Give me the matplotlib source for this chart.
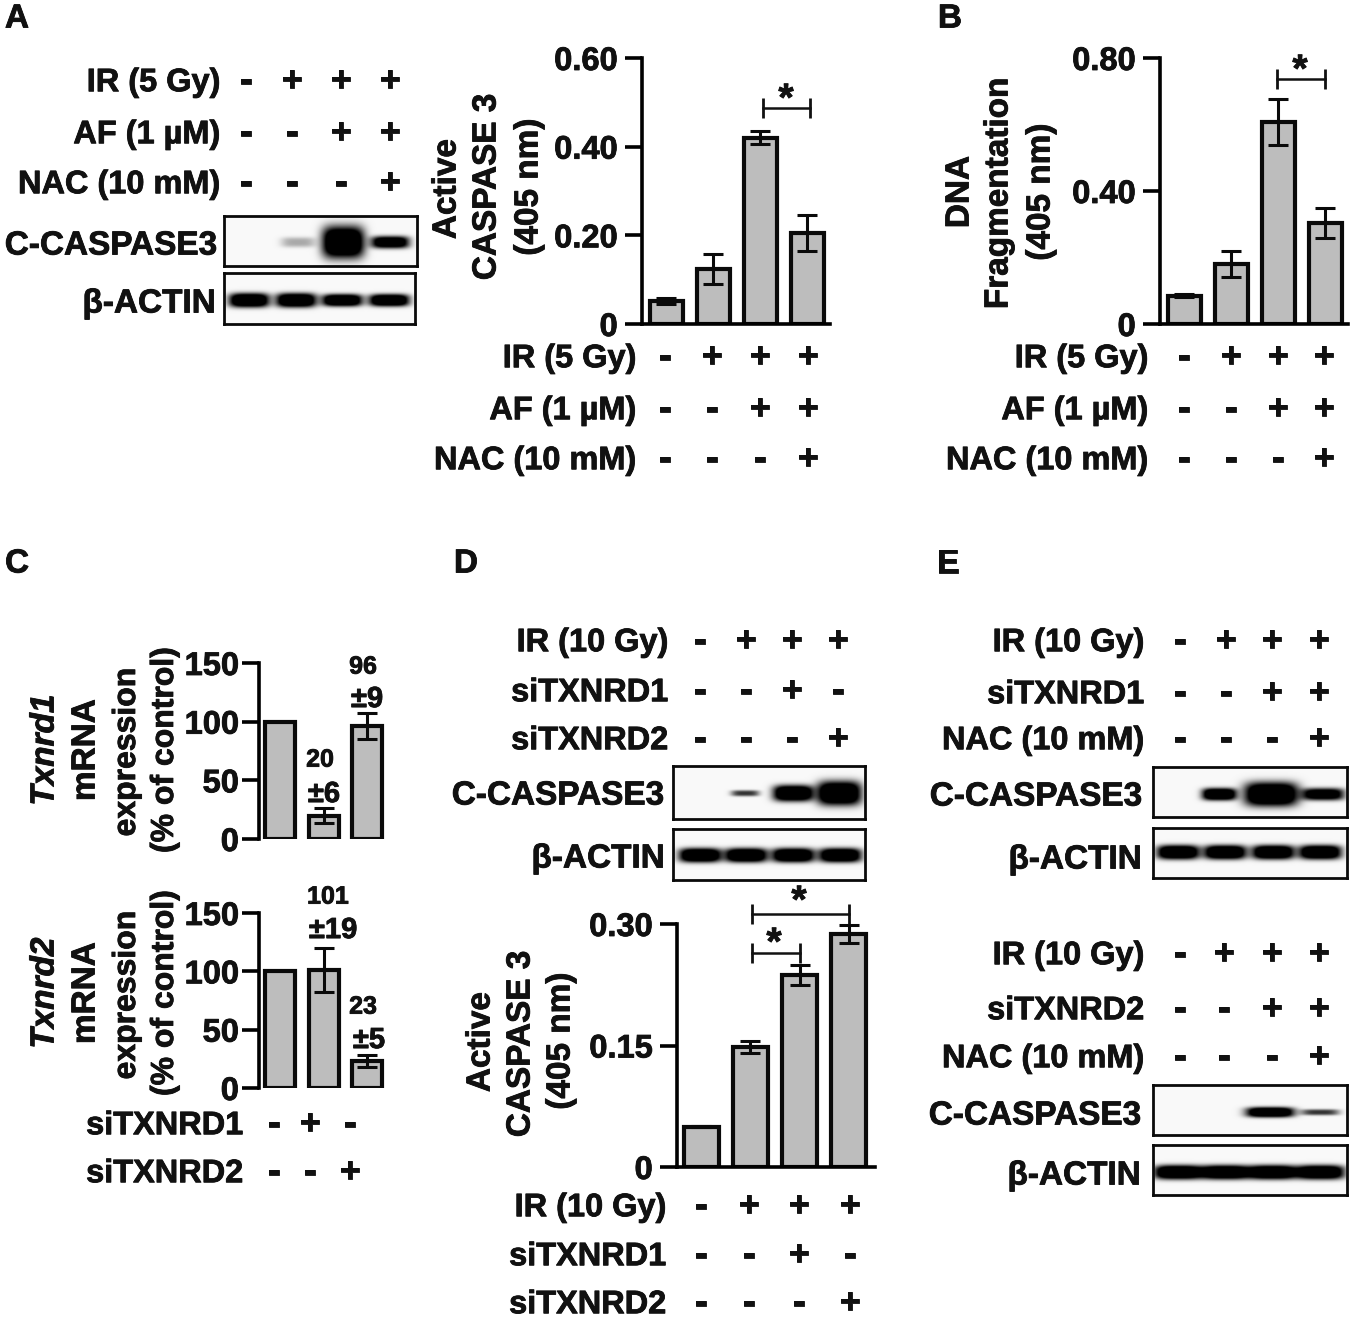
import numpy as np
import matplotlib
matplotlib.use("Agg")
import matplotlib.pyplot as plt
import matplotlib.patheffects as pe

plt.rcParams['font.family'] = ['Liberation Sans', 'DejaVu Sans']
plt.rcParams['font.weight'] = 'bold'

W, H = 1355, 1324
FS = 24
ROW_FS = 23.4
SIGN_FS = 26
GRAY = '#bdbdbd'
HEAVY = [pe.withStroke(linewidth=0.6, foreground='#111111')]

# ---- data -----
caspase_a = [0.052, 0.125, 0.42, 0.205]
caspase_a_err = [0.007, 0.034, 0.015, 0.04]
dna_b = [0.085, 0.18, 0.607, 0.305]
dna_b_err = [0.004, 0.04, 0.07, 0.045]
txnrd1 = [100, 20, 96]
txnrd1_err = [0, 6, 11]
txnrd2 = [100, 101, 23]
txnrd2_err = [0, 19, 5]
caspase_d = [0.05, 0.148, 0.237, 0.288]
caspase_d_err = [0.001, 0.007, 0.012, 0.011]

ir = "-+++"
af = "--++"
nac = "---+"
si1_d = "--+-"
si2_d = "---+"
si1_c = "-+-"
si2_c = "--+"
si_e = "--++"

blot_a_casp = [0.0, 0.2, 1.0, 0.9]
blot_d_casp = [0.0, 0.5, 1.0, 1.0]
blot_e1_casp = [0.0, 1.0, 1.0, 0.85]
blot_e2_casp = [0.0, 0.0, 1.0, 0.5]
blot_actin = [1.0, 1.0, 1.0, 1.0]

fig = plt.figure(figsize=(W / 100, H / 100), dpi=100, facecolor='white')


def axpx(x0, y0, x1, y1, **kw):
    return fig.add_axes([x0 / W, 1 - y1 / H, (x1 - x0) / W, (y1 - y0) / H], **kw)


ov = axpx(0, 0, W, H, zorder=10)
ov.set_xlim(0, W)
ov.set_ylim(H, 0)
ov.axis('off')
ov.patch.set_alpha(0)


def T(x, y, s, ha='center', fs=FS, **kw):
    ov.text(x, y + fs * 0.48, s, ha=ha, va='baseline', fontsize=fs, fontweight='bold',
            color='#111111', path_effects=HEAVY, **kw)


def V(x, y, s, fs=FS, **kw):
    ov.text(x, y, s, ha='center', va='center', rotation=90, fontsize=fs, fontweight='bold',
            color='#111111', path_effects=HEAVY, **kw)


def rows(right, ys, labels, xs, signs):
    for y, lab, sg in zip(ys, labels, signs):
        T(right, y, lab, ha='right', fs=ROW_FS)
        for x, c in zip(xs, sg):
            ov.text(x, y + 11, c, ha='center', va='baseline', fontsize=SIGN_FS, fontweight='bold',
                    color='#111111', path_effects=HEAVY)


def bars(box, first, step, width, vals, errs, ylim, ticks, ticklabels, base=True, tfs=23.5, cap=7, pad=5):
    x0, y0, x1, y1 = box
    ax = axpx(x0, y0, x1, y1)
    ax.patch.set_alpha(0)
    ax.set_xlim((x0 - first) / step, (x1 - first) / step)
    ax.set_ylim(*ylim)
    xs = np.arange(len(vals))
    ax.bar(xs, vals, width=width / step, facecolor=GRAY, edgecolor='#0a0a0a', linewidth=3, zorder=2)
    for x, v, e in zip(xs, vals, errs):
        if e > 0:
            ax.errorbar(x, v, yerr=e, color='#0a0a0a', elinewidth=2.2, capsize=cap, capthick=2.2, zorder=3, clip_on=False)
    for s in ('top', 'right'):
        ax.spines[s].set_visible(False)
    ax.spines['bottom'].set_visible(base)
    ax.spines['left'].set_linewidth(2.6)
    ax.spines['bottom'].set_linewidth(2.6)
    ax.set_xticks([])
    ax.set_yticks(ticks)
    ax.set_yticklabels(ticklabels, fontsize=tfs, fontweight='bold', color='#111111', path_effects=HEAVY)
    ax.tick_params(axis='y', length=12.5, width=2.6, pad=pad)
    return ax


def bracket(ax, i, j, y, ms=14):
    ax.plot([i, j], [y, y], color='#111111', lw=1.8, marker='|', ms=ms, mew=2, clip_on=False, zorder=4)


def blot(box, lanes, strength, widths, heights, yc):
    x0, y0, x1, y1 = box
    ax = axpx(x0, y0, x1, y1)
    xx, yy = np.meshgrid(np.arange(x0, x1, 0.5), np.arange(y0, y1, 0.5))
    dark = np.zeros_like(xx, dtype=float)
    for lx, s, w, h in zip(lanes, strength, widths, heights):
        dark += s * np.exp(-(np.abs((xx - lx) / w) ** 4 + np.abs((yy - yc) / h) ** 3))
    img = 0.975 - 0.975 * np.clip(dark * 1.6, 0, 1)
    ax.imshow(img, cmap='gray', vmin=0, vmax=1, extent=(x0, x1, y1, y0), aspect='auto', interpolation='bilinear')
    ax.set_xticks([])
    ax.set_yticks([])
    for s in ax.spines.values():
        s.set_linewidth(2)
        s.set_color('#0a0a0a')


# ---- panel letters -----
for x, y, s in [(17, 16, 'A'), (950, 16, 'B'), (17, 561, 'C'), (466, 561, 'D'), (948, 561, 'E')]:
    T(x, y, s)

# ---- panel A -----
rows(220, [80, 132, 182], ['IR (5 Gy)', 'AF (1 µM)', 'NAC (10 mM)'], [246, 292, 341, 390], [ir, af, nac])
T(217, 243, 'C-CASPASE3', ha='right')
T(216, 301, 'β-ACTIN', ha='right')
blot((224, 216, 417, 266), [298, 343, 390], blot_a_casp[1:], [17, 21, 19], [5, 16, 6], 242)
blot((224, 273, 415, 324), [249, 296, 342, 389], blot_actin, [20, 20, 20, 20], [7, 7, 6, 6], 300)

axa = bars((642, 58, 830, 324), 666, 47, 33, caspase_a, caspase_a_err, (0, 0.6), [0, 0.2, 0.4, 0.6],
           ['0', '0.20', '0.40', '0.60'])
bracket(axa, 2.06, 3.06, 0.488)
T(786, 97, '*', fs=28)
V(447, 189, 'Active')
V(487, 187, 'CASPASE 3')
V(529, 187, '(405 nm)')
rows(636, [356, 408, 458], ['IR (5 Gy)', 'AF (1 µM)', 'NAC (10 mM)'], [665, 712, 760, 808], [ir, af, nac])

# ---- panel B -----
axb = bars((1160, 58, 1348, 324), 1184, 47, 33, dna_b, dna_b_err, (0, 0.8), [0, 0.4, 0.8],
           ['0', '0.40', '0.80'])
bracket(axb, 1.98, 3.0, 0.737)
T(1300, 68, '*', fs=28)
V(960, 192, 'DNA')
V(999, 193, 'Fragmentation')
V(1041, 192, '(405 nm)')
rows(1148, [356, 408, 458], ['IR (5 Gy)', 'AF (1 µM)', 'NAC (10 mM)'], [1184, 1231, 1278, 1324], [ir, af, nac])

# ---- panel C -----
bars((259, 663, 385, 839), 280, 43.5, 30, txnrd1, txnrd1_err, (0, 150), [0, 50, 100, 150],
     ['0', '50', '100', '150'], base=False, cap=7, pad=2)
bars((259, 913, 385, 1088), 280, 43.5, 30, txnrd2, txnrd2_err, (0, 150), [0, 50, 100, 150],
     ['0', '50', '100', '150'], base=False, cap=7, pad=2)
for yc, gene in [(750, 'Txnrd1'), (993, 'Txnrd2')]:
    V(45, yc, gene, style='italic')
    V(86, yc, 'mRNA')
    V(127, yc + 2, 'expression', fs=23)
    V(165, yc, '(% of control)', fs=23)
for x, y, s, f in [(363, 665, '96', 18), (367, 697, '±9', 21), (320, 758, '20', 18), (324, 792, '±6', 21),
                   (328, 895, '101', 18), (333, 928, '±19', 21), (363, 1005, '23', 18), (369, 1038, '±5', 21)]:
    T(x, y, s, fs=f)
rows(243, [1123, 1171], ['siTXNRD1', 'siTXNRD2'], [274, 310, 350], [si1_c, si2_c])

# ---- panel D -----
rows(668, [640, 690, 738], ['IR (10 Gy)', 'siTXNRD1', 'siTXNRD2'], [700, 746, 792, 838], [ir, si1_d, si2_d])
T(664, 793, 'C-CASPASE3', ha='right')
T(665, 856, 'β-ACTIN', ha='right')
blot((673, 766, 865, 819), [745, 793, 839], blot_d_casp[1:], [14, 20, 22], [3, 8, 12], 793)
blot((673, 829, 865, 880), [700, 746, 793, 840], blot_actin, [21, 21, 21, 21], [7, 7, 7, 7], 855)

axd = bars((677, 924, 875, 1167), 701, 49.3, 35, caspase_d, caspase_d_err, (0, 0.3), [0, 0.15, 0.3],
           ['0', '0.15', '0.30'], cap=7)
bracket(axd, 1.04, 2.0, 0.264)
bracket(axd, 1.04, 3.0, 0.312)
T(774, 941, '*', fs=28)
T(799, 899, '*', fs=28)
V(481, 1042, 'Active')
V(521, 1044, 'CASPASE 3')
V(561, 1041, '(405 nm)')
rows(666, [1205, 1254, 1302], ['IR (10 Gy)', 'siTXNRD1', 'siTXNRD2'], [701, 749, 799, 850], [ir, si1_d, si2_d])

# ---- panel E -----
rows(1144, [640, 692, 738], ['IR (10 Gy)', 'siTXNRD1', 'NAC (10 mM)'], [1180, 1226, 1272, 1319], [ir, si_e, nac])
T(1142, 794, 'C-CASPASE3', ha='right')
T(1142, 857, 'β-ACTIN', ha='right')
blot((1153, 767, 1347, 817), [1219, 1271, 1323], blot_e1_casp[1:], [17, 27, 21], [6, 12, 6], 794)
blot((1153, 828, 1347, 878), [1178, 1225, 1273, 1320], blot_actin, [21, 21, 21, 21], [7, 7, 7, 7], 852)
rows(1144, [953, 1008, 1056], ['IR (10 Gy)', 'siTXNRD2', 'NAC (10 mM)'], [1180, 1224, 1272, 1319], [ir, si_e, nac])
T(1141, 1113, 'C-CASPASE3', ha='right')
T(1141, 1173, 'β-ACTIN', ha='right')
blot((1153, 1085, 1347, 1135), [1270, 1320], blot_e2_casp[2:], [24, 19], [5, 3], 1112)
blot((1153, 1145, 1347, 1195), [1178, 1225, 1272, 1320], blot_actin, [24, 24, 24, 24], [7, 7, 7, 7], 1172)

fig.savefig('out.png', dpi=100, facecolor='white')
